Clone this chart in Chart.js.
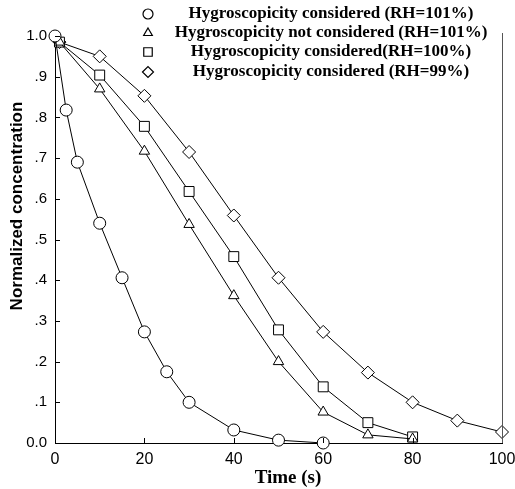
<!DOCTYPE html>
<html>
<head>
<meta charset="utf-8">
<script src="https://cdn.jsdelivr.net/npm/chart.js@4.4.1/dist/chart.umd.min.js"></script>
<style>
  html, body { margin: 0; padding: 0; background: #fff; }
  #wrap { width: 515px; height: 489px; }
</style>
</head>
<body>
<div id="wrap"><canvas id="canvas"></canvas></div>
<script>
// data
var legendLabels = [
    'Hygroscopicity considered (RH=101%)',
    'Hygroscopicity not considered (RH=101%)',
    'Hygroscopicity considered(RH=100%)',
    'Hygroscopicity considered (RH=99%)'
];
var pointStyles = ['circle', 'triangle', 'rect', 'rectRot'];
var pointSizes = [6, 6, 7, 6.5];

var time101 = [0, 2.5, 5, 10, 15, 20, 25, 30, 40, 50, 60];
var conc101 = [1.0, 0.818, 0.69, 0.54, 0.406, 0.273, 0.175, 0.10, 0.032, 0.007, 0.0];

var time80 = [1, 10, 20, 30, 40, 50, 60, 70, 80];
var conc101not = [0.985, 0.87, 0.717, 0.537, 0.362, 0.20, 0.076, 0.02, 0.01];
var conc100 = [0.985, 0.904, 0.778, 0.618, 0.458, 0.278, 0.138, 0.05, 0.015];

var time99 = [1, 10, 20, 30, 40, 50, 60, 70, 80, 90, 100];
var conc99 = [0.985, 0.95, 0.853, 0.715, 0.559, 0.406, 0.273, 0.173, 0.10, 0.055, 0.027];

var xTicks = [0, 20, 40, 60, 80, 100];
var yTickLabels = ['0.0', '.1', '.2', '.3', '.4', '.5', '.6', '.7', '.8', '.9', '1.0'];

function pairs(xs, ys) {
    return xs.map(function (x, i) { return { x: x, y: ys[i] }; });
}

function makeSet(i, xs, ys) {
    return {
        label: legendLabels[i],
        data: pairs(xs, ys),
        borderColor: '#000',
        borderWidth: 1,
        pointStyle: pointStyles[i],
        pointRadius: pointSizes[i],
        pointBackgroundColor: '#fff',
        pointBorderColor: '#000',
        pointBorderWidth: 1,
        tension: 0,
        clip: false
    };
}

// legend, axis titles, inward ticks and right frame line
var decorations = {
    id: 'decorations',
    afterDraw: function (chart) {
        var ctx = chart.ctx;
        var area = chart.chartArea;
        var xs = chart.scales.x, ys = chart.scales.y;
        ctx.save();
        ctx.strokeStyle = '#000';
        ctx.lineWidth = 1;
        // inward ticks
        ctx.beginPath();
        for (var k = 0; k < yTickLabels.length; k++) {
            var py = Math.round(ys.getPixelForValue(k / 10)) + 0.5;
            ctx.moveTo(area.left, py);
            ctx.lineTo(area.left + 5, py);
        }
        xTicks.forEach(function (v) {
            var px = Math.round(xs.getPixelForValue(v)) + 0.5;
            ctx.moveTo(px, area.bottom);
            ctx.lineTo(px, area.bottom - 5);
        });
        ctx.stroke();
        // right frame line
        ctx.strokeStyle = '#555';
        ctx.beginPath();
        ctx.moveTo(area.right + 0.5, area.top - 3);
        ctx.lineTo(area.right + 0.5, area.bottom);
        ctx.stroke();

        // legend
        var rows = [14, 33, 52, 72];
        ctx.fillStyle = '#000';
        ctx.font = 'bold 17px "Liberation Serif"';
        ctx.textAlign = 'center';
        ctx.textBaseline = 'middle';
        for (var i = 0; i < legendLabels.length; i++) {
            ctx.fillText(legendLabels[i], 331, rows[i]);
            ctx.save();
            ctx.fillStyle = '#fff';
            ctx.strokeStyle = '#000';
            ctx.lineWidth = 1.2;
            Chart.helpers.drawPoint(ctx, {
                pointStyle: pointStyles[i],
                radius: pointSizes[i] - 1,
                borderWidth: 1.2,
                rotation: 0
            }, 148, rows[i]);
            ctx.restore();
        }

        // axis titles
        ctx.fillStyle = '#000';
        ctx.font = 'bold 19px "Liberation Serif"';
        ctx.fillText('Time (s)', 288, 478);
        ctx.save();
        ctx.translate(17, 206);
        ctx.rotate(-Math.PI / 2);
        ctx.font = 'bold 17px "Liberation Sans"';
        ctx.fillText('Normalized concentration', 0, 0);
        ctx.restore();
        ctx.restore();
    }
};

var ctx = document.getElementById('canvas').getContext('2d');
var myChart = new Chart(ctx, {
    type: 'line',
    data: {
        datasets: [
            makeSet(0, time101, conc101),
            makeSet(1, time80, conc101not),
            makeSet(2, time80, conc100),
            makeSet(3, time99, conc99)
        ]
    },
    options: {
        responsive: true,
        maintainAspectRatio: false,
        animation: false,
        layout: { padding: { top: 36, right: 13, left: 0, bottom: 0 } },
        plugins: {
            legend: { display: false },
            tooltip: { enabled: false }
        },
        scales: {
            x: {
                type: 'linear',
                min: 0,
                max: 100,
                afterFit: function (scale) {
                    scale.height = 46;
                    scale.paddingLeft = 0;
                    scale.paddingRight = 0;
                },
                ticks: {
                    stepSize: 20,
                    padding: 7,
                    color: '#000',
                    font: { family: 'Liberation Sans', size: 16 }
                },
                grid: { display: false, drawTicks: false },
                border: { display: true, color: '#000', width: 1 }
            },
            y: {
                min: 0,
                max: 1,
                afterFit: function (scale) {
                    scale.width = 55;
                    scale.paddingTop = 0;
                    scale.paddingBottom = 0;
                },
                ticks: {
                    stepSize: 0.1,
                    padding: 8,
                    color: '#000',
                    font: { family: 'Liberation Sans', size: 15 },
                    callback: function (value) {
                        return yTickLabels[Math.round(value * 10)];
                    }
                },
                grid: { display: false, drawTicks: false },
                border: { display: true, color: '#000', width: 1 }
            }
        }
    },
    plugins: [decorations]
});
</script>
</body>
</html>
